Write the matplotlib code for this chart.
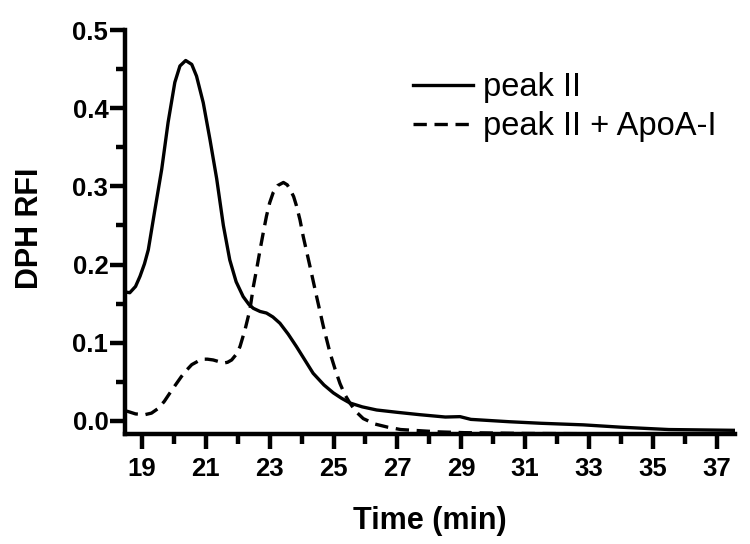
import matplotlib
matplotlib.use("Agg")
import matplotlib.pyplot as plt
from matplotlib.ticker import FixedLocator

# Data
peak_x = [18.47, 18.62, 18.8, 18.94, 19.08, 19.2, 19.41, 19.62, 19.82, 20.03, 20.19, 20.37,
          20.56, 20.71, 20.92, 21.13, 21.34, 21.55, 21.75, 21.95, 22.17, 22.35, 22.49, 22.7,
          22.9, 23.1, 23.32, 23.58, 23.84, 24.1, 24.36, 24.7, 24.99, 25.25, 25.51, 25.9,
          26.35, 27.0, 27.7, 28.5, 28.96, 29.3, 30.5, 31.5, 32.82, 34.0, 35.5, 37.57]
peak_y = [0.165, 0.164, 0.172, 0.185, 0.201, 0.219, 0.271, 0.322, 0.382, 0.433, 0.454, 0.461,
          0.456, 0.441, 0.407, 0.360, 0.310, 0.250, 0.206, 0.178, 0.159, 0.149, 0.144, 0.140,
          0.138, 0.133, 0.125, 0.111, 0.095, 0.078, 0.061, 0.046, 0.036, 0.029, 0.023, 0.018,
          0.014, 0.011, 0.008, 0.005, 0.0055, 0.002, -0.001, -0.003, -0.005, -0.008, -0.011, -0.012]

apo_x = [18.47, 18.57, 18.8, 19.09, 19.3, 19.51, 19.7, 19.88, 20.05, 20.24, 20.4, 20.56, 20.87,
         21.05, 21.23, 21.4, 21.55, 21.68, 21.81, 21.95, 22.07, 22.23, 22.38, 22.49, 22.6, 22.7,
         22.8, 22.9, 23.0, 23.11, 23.25, 23.43, 23.55, 23.64, 23.75, 23.84, 23.95, 24.05, 24.26,
         24.47, 24.68, 24.89, 25.05, 25.2, 25.35, 25.51, 25.7, 25.93, 26.3, 26.7, 27.1, 27.5,
         28.3, 29.1, 31.0, 37.57]
apo_y = [0.013, 0.012, 0.009, 0.008, 0.010, 0.016, 0.025, 0.036, 0.046, 0.057, 0.065, 0.072, 0.079,
         0.079, 0.078, 0.076, 0.074, 0.075, 0.078, 0.085, 0.095, 0.117, 0.142, 0.172, 0.196, 0.219,
         0.241, 0.262, 0.279, 0.292, 0.301, 0.305, 0.302, 0.296, 0.287, 0.275, 0.257, 0.236, 0.198,
         0.159, 0.121, 0.087, 0.066, 0.048, 0.034, 0.023, 0.012, 0.003, -0.004, -0.008, -0.011, -0.012,
         -0.014, -0.015, -0.016, -0.017]

labels = ["peak II", "peak II + ApoA-I"]
x_ticks = [19, 21, 23, 25, 27, 29, 31, 33, 35, 37]
x_minor = [20, 22, 24, 26, 28, 30, 32, 34, 36]
y_ticks = [0.0, 0.1, 0.2, 0.3, 0.4, 0.5]
y_minor = [0.05, 0.15, 0.25, 0.35, 0.45]

plt.rcParams['font.family'] = ['Liberation Sans', 'DejaVu Sans']

fig = plt.figure(figsize=(7.5, 5.44), dpi=100)
ax = fig.add_axes([125/750, 1 - 434/544, (735-125)/750, (434-30)/544])

ax.plot(peak_x, peak_y, color='black', lw=2.4, label=labels[0])
ax.plot(apo_x, apo_y, color='black', lw=2.4, linestyle=(0, (4.0, 2.3)), label=labels[1])

ax.set_xlim(18.47, 37.57)
ax.set_ylim(-0.0167, 0.5)
ax.set_xticks(x_ticks)
ax.set_yticks(y_ticks)
ax.set_yticklabels([f"{v:.1f}" for v in y_ticks])
ax.xaxis.set_minor_locator(FixedLocator(x_minor))
ax.yaxis.set_minor_locator(FixedLocator(y_minor))

for s in ['top', 'right']:
    ax.spines[s].set_visible(False)
for s in ['left', 'bottom']:
    ax.spines[s].set_linewidth(3.2)
    ax.spines[s].set_capstyle('projecting')

ax.tick_params(axis='both', which='major', direction='out', length=10.5, width=3.2, labelsize=18.5)
ax.tick_params(axis='x', which='major', pad=6)
ax.tick_params(axis='y', which='major', pad=1.5)
ax.tick_params(axis='x', which='minor', direction='out', length=7.5, width=3.2)
ax.tick_params(axis='y', which='minor', direction='out', length=6.5, width=3.2)
for lab in ax.get_xticklabels() + ax.get_yticklabels():
    lab.set_fontweight('bold')

ax.set_xlabel("Time (min)", fontsize=22, fontweight='bold', labelpad=18)
ax.set_ylabel("DPH RFI", fontsize=22, fontweight='bold')
ax.yaxis.set_label_coords((45 - 125) / 610, 0.51)

leg = ax.legend(loc='upper left', bbox_to_anchor=(413/750, 1 - 72/544),
                bbox_transform=fig.transFigure, frameon=False, fontsize=23.5,
                handlelength=1.83, handletextpad=0.3, labelspacing=0.25,
                borderpad=0, borderaxespad=0)

fig.savefig("out.png", dpi=100)
